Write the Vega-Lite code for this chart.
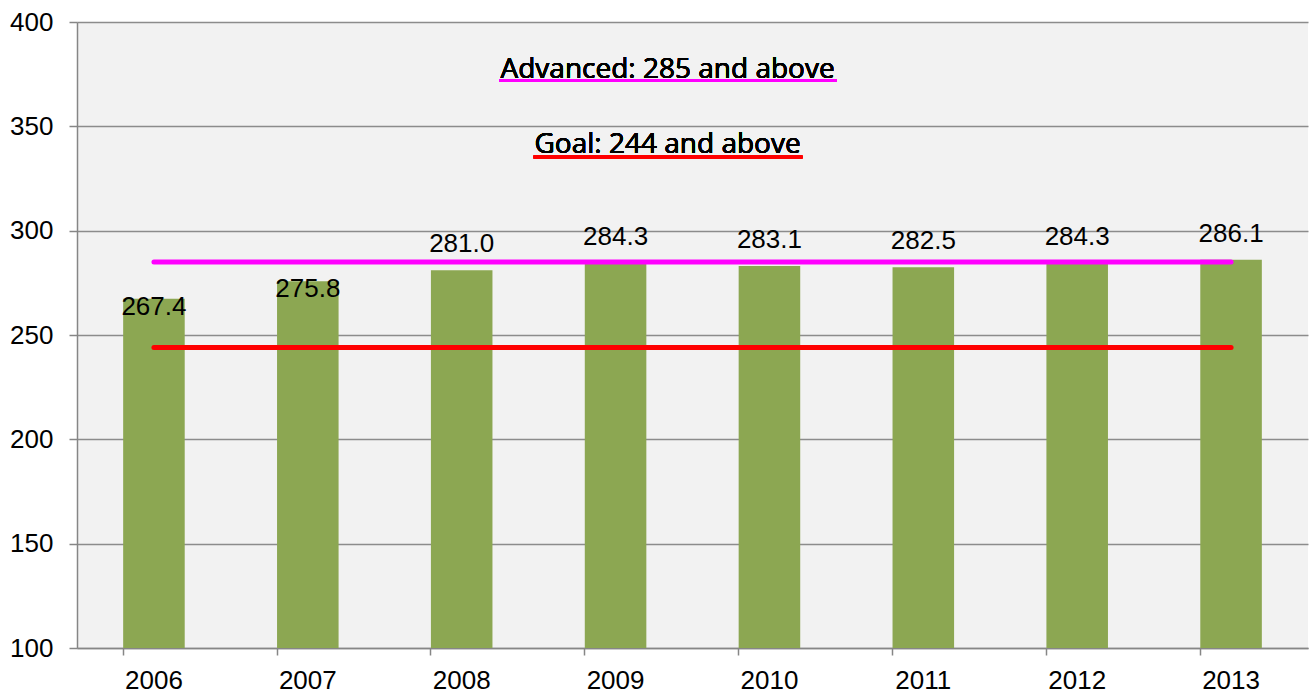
{
  "$schema": "https://vega.github.io/schema/vega-lite/v6.json",
  "width": 1231,
  "height": 626,
  "autosize": {"type": "none"},
  "padding": {"left": 77, "top": 22, "right": 2, "bottom": 48},
  "background": "#FFFFFF",
  "config": {
    "view": {"fill": "#F2F2F2", "stroke": null},
    "font": "Liberation Sans"
  },
  "data": {
    "values": [
      {"year": "2006", "score": 267.4, "advanced": 285, "goal": 244},
      {"year": "2007", "score": 275.8, "advanced": 285, "goal": 244},
      {"year": "2008", "score": 281.0, "advanced": 285, "goal": 244},
      {"year": "2009", "score": 284.3, "advanced": 285, "goal": 244},
      {"year": "2010", "score": 283.1, "advanced": 285, "goal": 244},
      {"year": "2011", "score": 282.5, "advanced": 285, "goal": 244},
      {"year": "2012", "score": 284.3, "advanced": 285, "goal": 244},
      {"year": "2013", "score": 286.1, "advanced": 285, "goal": 244}
    ]
  },
  "encoding": {
    "x": {
      "field": "year",
      "type": "ordinal",
      "scale": {"paddingInner": 0.6, "paddingOuter": 0.3},
      "axis": {
        "title": null,
        "labelAngle": 0,
        "labelFont": "Liberation Sans",
        "labelFontSize": 26,
        "labelColor": "#000000",
        "labelPadding": 12,
        "domainColor": "#868686",
        "domainWidth": 1.5,
        "tickColor": "#868686",
        "tickSize": 7,
        "tickWidth": 1.5,
        "bandPosition": 0,
        "labelOffset": 0
      }
    }
  },
  "layer": [
    {
      "mark": {"type": "bar", "color": "#8CA752"},
      "encoding": {
        "y": {
          "field": "score",
          "type": "quantitative",
          "scale": {"domain": [100, 400], "nice": false, "zero": false},
          "axis": {
            "title": null,
            "values": [100, 150, 200, 250, 300, 350, 400],
            "grid": true,
            "gridColor": "#8C8C8C",
            "gridWidth": 1.5,
            "domainColor": "#868686",
            "domainWidth": 1.5,
            "tickColor": "#868686",
            "tickSize": 8,
            "tickWidth": 1.5,
            "labelFont": "Liberation Sans",
            "labelFontSize": 26,
            "labelColor": "#000000",
            "labelPadding": 16
          }
        },
        "y2": {"datum": 100}
      }
    },
    {
      "mark": {"type": "line", "color": "#FF00FF", "strokeWidth": 5, "strokeCap": "round"},
      "encoding": {"y": {"field": "advanced", "type": "quantitative"}}
    },
    {
      "mark": {"type": "line", "color": "#FF0000", "strokeWidth": 5, "strokeCap": "round"},
      "encoding": {"y": {"field": "goal", "type": "quantitative"}}
    },
    {
      "transform": [{"filter": "datum.year == '2006' || datum.year == '2007'"}],
      "mark": {"type": "text", "font": "Liberation Sans", "fontSize": 26, "color": "#000000", "baseline": "middle", "align": "center", "dy": 8},
      "encoding": {
        "y": {"field": "score", "type": "quantitative"},
        "text": {"field": "score", "type": "quantitative", "format": ".1f"}
      }
    },
    {
      "transform": [{"filter": "datum.year != '2006' && datum.year != '2007'"}],
      "mark": {"type": "text", "font": "Liberation Sans", "fontSize": 26, "color": "#000000", "baseline": "middle", "align": "center", "dy": -26},
      "encoding": {
        "y": {"field": "score", "type": "quantitative"},
        "text": {"field": "score", "type": "quantitative", "format": ".1f"}
      }
    },
    {
      "mark": {"type": "text", "font": "Open Sans", "fontSize": 28, "fontWeight": 400, "color": "#000000", "baseline": "alphabetic", "align": "center", "dx": 52},
      "encoding": {
        "x": {"datum": "2009"},
        "y": {"datum": 373.2},
        "text": {"value": "Advanced: 285 and above"}
      }
    },
    {
      "mark": {"type": "text", "font": "Open Sans", "fontSize": 28, "fontWeight": 400, "color": "#000000", "baseline": "alphabetic", "align": "center", "dx": 52},
      "encoding": {
        "x": {"datum": "2009"},
        "y": {"datum": 337.2},
        "text": {"value": "Goal: 244 and above"}
      }
    },
    {
      "mark": {"type": "rule", "color": "#FF00FF", "strokeWidth": 3, "xOffset": -116, "x2Offset": 67},
      "encoding": {
        "x": {"datum": "2009"},
        "x2": {"datum": "2010"},
        "y": {"datum": 372.0}
      }
    },
    {
      "mark": {"type": "rule", "color": "#FF0000", "strokeWidth": 3, "xOffset": -82, "x2Offset": 33},
      "encoding": {
        "x": {"datum": "2009"},
        "x2": {"datum": "2010"},
        "y": {"datum": 335.3}
      }
    }
  ]
}
